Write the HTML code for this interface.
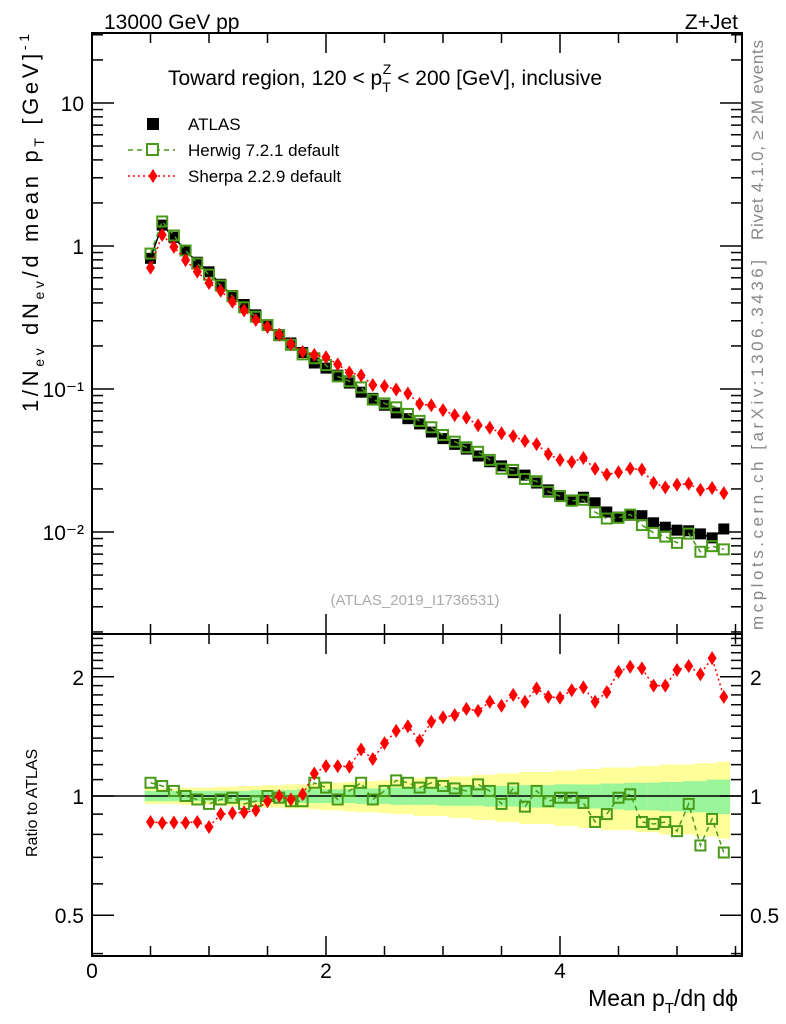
<!DOCTYPE html>
<html><head><meta charset="utf-8"><style>
body{margin:0;background:#fff;}
svg{display:block;font-family:"Liberation Sans",sans-serif;}
</style></head><body>
<svg id="c" width="786" height="1024" viewBox="0 0 786 1024">
<g id="g"></g>
</svg>
<script>
const xs = [0.5,0.6,0.7,0.8,0.9,1.0,1.1,1.2,1.3,1.4,1.5,1.6,1.7,1.8,1.9,2.0,2.1,2.2,2.3,2.4,2.5,2.6,2.7,2.8,2.9,3.0,3.1,3.2,3.3,3.4,3.5,3.6,3.7,3.8,3.9,4.0,4.1,4.2,4.3,4.4,4.5,4.6,4.7,4.8,4.9,5.0,5.1,5.2,5.3,5.4];
const atlas = [0.82,1.4,1.15,0.93,0.77,0.66,0.54,0.45,0.39,0.33,0.28,0.24,0.21,0.18,0.152,0.14,0.125,0.11,0.095,0.086,0.077,0.068,0.062,0.057,0.05,0.045,0.041,0.038,0.034,0.031,0.029,0.026,0.025,0.022,0.0197,0.018,0.0167,0.0175,0.016,0.0138,0.0127,0.0131,0.013,0.0116,0.0108,0.0103,0.0102,0.0097,0.0091,0.0105];
const herwigRatio = [1.08,1.06,1.03,1.0,0.98,0.955,0.98,0.99,0.955,0.97,1.0,0.99,0.97,0.97,1.08,1.05,0.98,1.03,1.08,0.98,1.03,1.095,1.08,1.05,1.08,1.06,1.045,1.03,1.07,1.03,0.955,1.045,0.94,1.03,0.97,0.99,0.99,0.96,0.86,0.90,0.99,1.01,0.86,0.85,0.86,0.815,0.955,0.75,0.875,0.72];
const sherpaRatio = [0.86,0.855,0.857,0.856,0.86,0.835,0.90,0.905,0.91,0.92,0.97,1.0,0.98,1.01,1.14,1.19,1.19,1.185,1.31,1.24,1.36,1.46,1.50,1.38,1.54,1.58,1.60,1.66,1.64,1.73,1.69,1.80,1.73,1.87,1.78,1.77,1.85,1.88,1.73,1.83,2.06,2.12,2.10,1.90,1.90,2.08,2.13,2.03,2.23,1.78];
const statErr = [0.03,0.03,0.03,0.03,0.03,0.03,0.03,0.03,0.03,0.035,0.035,0.035,0.035,0.04,0.04,0.04,0.04,0.04,0.045,0.045,0.045,0.05,0.05,0.05,0.05,0.055,0.055,0.055,0.055,0.06,0.06,0.06,0.065,0.065,0.065,0.07,0.07,0.07,0.07,0.075,0.075,0.08,0.08,0.08,0.085,0.085,0.09,0.09,0.1,0.1];
const totErr = [0.045,0.045,0.045,0.05,0.05,0.05,0.055,0.055,0.06,0.06,0.065,0.065,0.07,0.07,0.075,0.08,0.08,0.085,0.09,0.09,0.095,0.1,0.1,0.11,0.11,0.11,0.12,0.12,0.13,0.13,0.14,0.14,0.15,0.15,0.15,0.16,0.16,0.17,0.17,0.18,0.18,0.18,0.19,0.19,0.2,0.2,0.2,0.21,0.21,0.22];
const mainTicks = [0.01,0.1,1,10];
const mainTickLabels = ["10\u207B\u00B2","10\u207B\u00B9","1","10"];
const ratioTicks = [0.5,1,2];
const xTicks = [0,2,4];

const NS="http://www.w3.org/2000/svg";
const G=document.getElementById('g');
const L=92,R=742,T=33,MB=634,RB=956;
const X=v=>L+v*117;
const YM=v=>246-143*Math.log10(v);
const YR=v=>796-396*Math.log10(v);
function mk(t,a,p){const e=document.createElementNS(NS,t);for(const k in a)e.setAttribute(k,a[k]);(p||G).appendChild(e);return e;}
function txt(s,x,y,sz,anc,fill){const e=mk('text',{x:x,y:y,'font-size':sz,'text-anchor':anc||'start',fill:fill||'#000'});e.textContent=s;return e;}

for(let i=0;i<xs.length;i++){
 const x0=X(xs[i]-0.05),w=X(xs[i]+0.05)-x0;
 const y1=mk('rect',{x:x0,y:YR(1+totErr[i]),width:w+0.5,height:YR(1-totErr[i])-YR(1+totErr[i]),fill:'#ffff99'});
 
 
 const g1=mk('rect',{x:x0,y:YR(1+statErr[i]),width:w+0.5,height:YR(1-statErr[i])-YR(1+statErr[i]),fill:'#99f599'});
 
 
}
mk('line',{x1:L,x2:R,y1:YR(1),y2:YR(1),stroke:'#000','stroke-width':1.5});

mk('rect',{x:L,y:T,width:R-L,height:MB-T,fill:'none',stroke:'#000','stroke-width':2});
mk('rect',{x:L,y:MB,width:R-L,height:RB-MB,fill:'none',stroke:'#000','stroke-width':2});

for(let v=0;v<=5.5;v+=0.5){
 const maj=Math.abs(v%2)<1e-6, len=maj?20:10, x=X(v);
 [[T,1],[MB,-1],[MB,1],[RB,-1]].forEach(([y,d])=>mk('line',{x1:x,x2:x,y1:y,y2:y+d*len,stroke:'#000','stroke-width':1.5}));
}
xTicks.forEach(v=>{const t=txt(String(v),X(v),978,21,'middle');});

for(let e=-3;e<=1;e++){for(let m=1;m<=9;m++){const v=m*Math.pow(10,e);const y=YM(v);if(y<T||y>MB)continue;const len=m==1?22:11;
 mk('line',{x1:L,x2:L+len,y1:y,y2:y,stroke:'#000','stroke-width':1.5});mk('line',{x1:R,x2:R-len,y1:y,y2:y,stroke:'#000','stroke-width':1.5});}}
mainTicks.forEach((v,i)=>{const t=txt(mainTickLabels[i],L-8,YM(v)+8,21,'end');});
for(let v=0.4;v<=2.55;v+=0.1){const y=YR(v);if(y<MB||y>RB)continue;const maj=[0.5,1,2].some(q=>Math.abs(q-v)<1e-6);const len=maj?22:11;
 mk('line',{x1:L,x2:L+len,y1:y,y2:y,stroke:'#000','stroke-width':1.5});mk('line',{x1:R,x2:R-len,y1:y,y2:y,stroke:'#000','stroke-width':1.5});}
ratioTicks.forEach(v=>{txt(String(v),L-8,YR(v)+8,21,'end');txt(String(v),R+8,YR(v)+8,21,'start');});

function series(vals,yf,color,dash,kind,name){
 const pts=xs.map((x,i)=>X(x)+','+yf(vals[i])).join(' ');
 const pl=mk('polyline',{points:pts,fill:'none',stroke:color,'stroke-width':1.5,'stroke-dasharray':dash});
 
 
 vals.forEach((v,i)=>{const x=X(xs[i]),y=yf(v);let e;
  if(kind=='sq')e=mk('rect',{x:x-5,y:y-5,width:10,height:10,fill:'#fff','fill-opacity':0,stroke:color,'stroke-width':2});
  else if(kind=='fill')e=mk('rect',{x:x-5.5,y:y-5.5,width:11,height:11,fill:'#000'});
  else e=mk('polygon',{points:`${x},${y-7} ${x+4.5},${y} ${x},${y+7} ${x-4.5},${y}`,fill:color});
  
  });
}
series(atlas,YM,'#000','none','fill','atlas');
series(atlas.map((a,i)=>a*herwigRatio[i]),YM,'#4a9a1a','5,4','sq','herwig');
series(atlas.map((a,i)=>a*sherpaRatio[i]),YM,'#ff0000','2,3','dia','sherpa');
series(herwigRatio,YR,'#4a9a1a','5,4','sq','herwig-ratio');
series(sherpaRatio,YR,'#ff0000','2,3','dia','sherpa-ratio');
</script>
<svg width="786" height="1024" style="position:absolute;left:0;top:0" font-family="Liberation Sans, sans-serif">
<text x="104" y="29" font-size="21">13000 GeV pp</text>
<text x="738" y="29" font-size="21" text-anchor="end">Z+Jet</text>
<text x="168" y="85" font-size="21">Toward region, 120 &lt; p<tspan font-size="14" dy="7">T</tspan><tspan font-size="14" dx="-8" dy="-18">Z</tspan><tspan dy="11"> &lt; 200 [GeV], inclusive</tspan></text>
<g font-size="17">
<rect x="147" y="118" width="12" height="12" fill="#000"/>
<text x="188" y="130">ATLAS</text>
<line x1="128" x2="175" y1="150" y2="150" stroke="#4a9a1a" stroke-width="1.5" stroke-dasharray="5,4"/>
<rect x="147" y="144" width="11" height="11" fill="#fff" stroke="#4a9a1a" stroke-width="2"/>
<text x="188" y="156">Herwig 7.2.1 default</text>
<line x1="128" x2="175" y1="176" y2="176" stroke="#ff0000" stroke-width="1.5" stroke-dasharray="2,3"/>
<polygon points="153,169 157.5,176 153,183 148.5,176" fill="#ff0000"/>
<text x="188" y="182">Sherpa 2.2.9 default</text>
</g>
<text x="415" y="605" font-size="15" fill="#aaa" text-anchor="middle">(ATLAS_2019_I1736531)</text>
<text transform="translate(763,240) rotate(-90)" font-size="17" fill="#888" textLength="200" lengthAdjust="spacing">Rivet 4.1.0, ≥ 2M events</text>
<text transform="translate(763,630) rotate(-90)" font-size="17" fill="#888" textLength="370" lengthAdjust="spacing">mcplots.cern.ch [arXiv:1306.3436]</text>
<text transform="translate(38,412) rotate(-90)" font-size="22" textLength="378" lengthAdjust="spacing">1/N<tspan font-size="14" dy="6">ev</tspan><tspan dy="-6"> dN</tspan><tspan font-size="14" dy="6">ev</tspan><tspan dy="-6">/d mean p</tspan><tspan font-size="14" dy="6">T</tspan><tspan dy="-6"> [GeV]</tspan><tspan font-size="14" dy="-9">-1</tspan></text>
<text transform="translate(37,857) rotate(-90)" font-size="16">Ratio to ATLAS</text>
<text x="738" y="1006" font-size="23" text-anchor="end">Mean p<tspan font-size="15" dy="7">T</tspan><tspan dy="-7">/dη dϕ</tspan></text>
</svg>
</body></html>
